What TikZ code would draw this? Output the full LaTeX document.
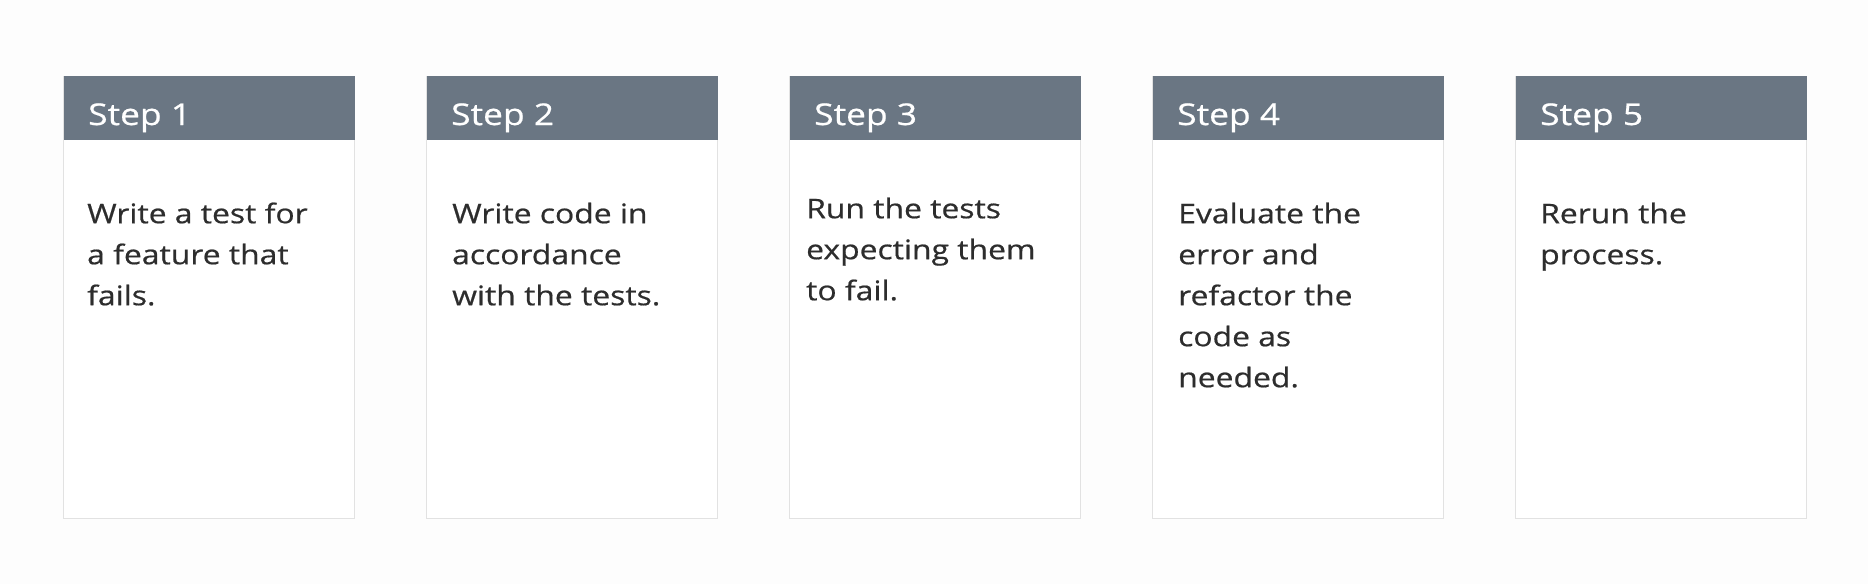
\documentclass[tikz,border=0pt]{standalone}
\usepackage{fontspec}
\setmainfont[FakeStretch=1.18,FakeBold=0.6]{Open Sans}
\usetikzlibrary{positioning}
\definecolor{headgray}{RGB}{106,118,131}
\definecolor{textgray}{RGB}{45,45,45}
\definecolor{edgegray}{RGB}{226,226,226}
\definecolor{pagebg}{RGB}{253,253,253}

\begin{document}
\begin{tikzpicture}[x=1pt,y=-1pt,
  card/.style={draw=edgegray, fill=white, line width=1.2pt, minimum width=291pt, minimum height=442pt, inner sep=0pt, anchor=north west},
  head/.style={fill=headgray, minimum width=291pt, minimum height=64pt, inner sep=0pt, anchor=north},
  headtext/.style={text=white, font=\fontsize{30}{36}\selectfont, anchor=base west, inner sep=0pt},
  bodytext/.style={text=textgray, font=\fontsize{27}{41}\selectfont, align=left, anchor=north west, inner sep=0pt}]
\fill[pagebg] (0,0) rectangle (1868,584);
% five cards, 363pt apart; text top = baseline - strut height
\foreach \i/\dx/\by/\txt in {
  1/24/223/{Write a test for\\a feature that\\fails.},
  2/26/223/{Write code in\\accordance\\with the tests.},
  3/17/218/{Run the tests\\expecting them\\to fail.},
  4/26/223/{Evaluate the\\error and\\refactor the\\code as\\needed.},
  5/25/223/{Rerun the\\process.}}
{
  \node[card] (card\i) at ({63+363*(\i-1)},76) {};
  \node[head] (head\i) at (card\i.north) {};
  \node[headtext] (title\i) at ({63+363*(\i-1)+25},125) {Step \i};
  \node[bodytext] (text\i) at ({63+363*(\i-1)+\dx},{\by-28.7}) {\strut\txt};
}
\end{tikzpicture}
\end{document}
